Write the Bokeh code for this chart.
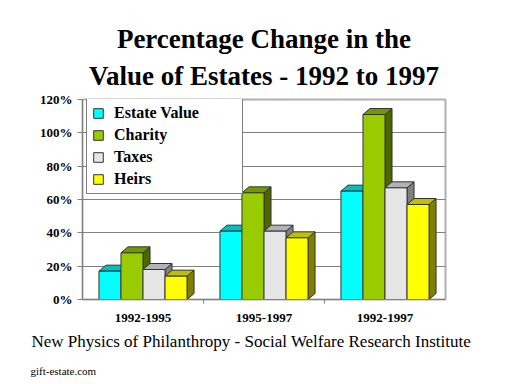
from bokeh.plotting import figure
from bokeh.models import (Range1d, FixedTicker, PrintfTickFormatter, Title, Legend, LegendItem)
from bokeh.embed import file_html
from bokeh.resources import INLINE

# ---- data ----
periods = ["1992-1995", "1995-1997", "1992-1997"]
series = ["Estate Value", "Charity", "Taxes", "Heirs"]
estate_value = [17, 41, 65]
charity = [28, 64, 111]
taxes = [18, 41, 67]
heirs = [14, 37, 57]
y_ticks = [0, 20, 40, 60, 80, 100, 120]

values = [estate_value, charity, taxes, heirs]
front_colors = ["#00FFFF", "#99CC00", "#E6E6E6", "#FFFF00"]
top_colors = ["#00BFBF", "#739900", "#B3B3B3", "#BFBF00"]
side_colors = ["#009999", "#4D6600", "#808080", "#808000"]

SERIF = "Liberation Serif"
W, H = 504, 384
FL, FR, FT, FB = 82, 445, 99, 299   # frame edges in canvas px

p = figure(width=W, height=H, output_backend="svg", toolbar_location=None,
           x_range=Range1d(0, 3), y_range=Range1d(0, 120), title=None,
           min_border_left=FL, min_border_right=W - FR,
           min_border_top=FT, min_border_bottom=H - FB)
p.background_fill_color = "white"
p.border_fill_color = "white"
p.outline_line_color = "#B0B0B0"
p.outline_line_width = 2

bw = 0.182   # bar width (data units)
dx = 0.058   # depth offset x
dy = 3.6     # depth offset y

fronts, backs = [], []
for si, vals in enumerate(values):
    x0s, x1s, tops = [], [], []
    side_xs, side_ys, top_xs, top_ys = [], [], [], []
    for gi, v in enumerate(vals):
        c = gi + 0.5
        x0 = c - 2 * bw + si * bw
        x1 = x0 + bw
        x0s.append(x0); x1s.append(x1); tops.append(v)
        side_xs.append([x1, x1 + dx, x1 + dx, x1]); side_ys.append([0, dy, v + dy, v])
        top_xs.append([x0, x0 + dx, x1 + dx, x1]); top_ys.append([v, v + dy, v + dy, v])
    backs.append(p.patches(side_xs, side_ys, fill_color=side_colors[si], line_color="#333333", line_width=1))
    backs.append(p.patches(top_xs, top_ys, fill_color=top_colors[si], line_color="#333333", line_width=1))
    fronts.append(p.quad(left=x0s, right=x1s, bottom=0, top=tops, fill_color=front_colors[si],
                         line_color="#333333", line_width=1))

p.renderers = backs + fronts

# axes
p.xaxis.ticker = FixedTicker(ticks=[0.5, 1.5, 2.5], minor_ticks=[1, 2])
p.xaxis.major_label_overrides = {0.5: periods[0], 1.5: periods[1], 2.5: periods[2]}
p.xaxis.major_tick_line_color = None
p.xaxis.minor_tick_out = 4
p.xaxis.minor_tick_in = 0
p.xaxis.minor_tick_line_color = "#808080"
p.xaxis.axis_line_color = "#808080"
p.xaxis.major_label_text_font = SERIF
p.xaxis.major_label_text_font_style = "bold"
p.xaxis.major_label_text_font_size = "13px"
p.xaxis.major_label_text_color = "black"
p.xaxis.major_label_standoff = 8

p.yaxis.ticker = FixedTicker(ticks=y_ticks)
p.yaxis.formatter = PrintfTickFormatter(format="%d%%")
p.yaxis.major_tick_out = 5
p.yaxis.major_tick_in = 0
p.yaxis.minor_tick_line_color = None
p.yaxis.major_tick_line_color = "#808080"
p.yaxis.axis_line_color = "#808080"
p.yaxis.major_label_text_font = SERIF
p.yaxis.major_label_text_font_style = "bold"
p.yaxis.major_label_text_font_size = "13px"
p.yaxis.major_label_text_color = "black"
p.yaxis.major_label_standoff = 5

p.xgrid.grid_line_color = None
p.ygrid.grid_line_color = "#808080"
p.ygrid.grid_line_width = 1

# legend
items = [LegendItem(label=series[i], renderers=[fronts[i]]) for i in range(4)]
legend = Legend(items=items, location=(4, 105), orientation="vertical",
                label_text_font=SERIF, label_text_font_style="bold",
                label_text_font_size="16px", label_text_color="black",
                glyph_width=12, glyph_height=12, label_standoff=10,
                label_height=18, label_width=123, spacing=4, padding=5, margin=0,
                border_line_color="black", border_line_width=1,
                background_fill_color="white", background_fill_alpha=1)
p.add_layout(legend, "center")

# titles
p.add_layout(Title(text="Value of Estates - 1992 to 1997", align="center",
                   vertical_align="top",
                   text_font=SERIF, text_font_style="bold", text_font_size="27px",
                   text_color="black", standoff=14), "above")
p.add_layout(Title(text="Percentage Change in the", align="center",
                   text_font=SERIF, text_font_style="bold", text_font_size="27px",
                   text_color="black", standoff=0), "above")

# bottom captions
p.add_layout(Title(text="New Physics of Philanthropy - Social Welfare Research Institute",
                   align="left", offset=-51, text_font=SERIF, text_font_style="normal",
                   text_font_size="17px", text_color="black", standoff=10), "below")
p.add_layout(Title(text="gift-estate.com", align="left", offset=-52,
                   text_font=SERIF, text_font_style="normal",
                   text_font_size="11px", text_color="black", standoff=15), "below")

open("out.html", "w").write(file_html(p, INLINE))
